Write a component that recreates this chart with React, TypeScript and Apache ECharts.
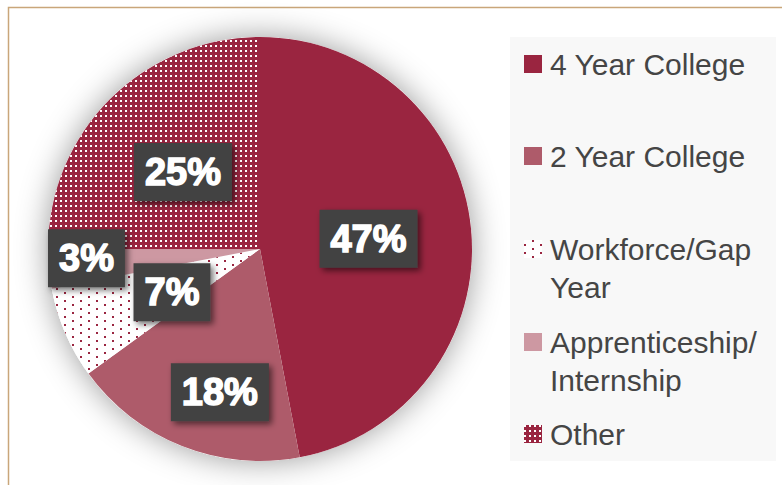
import React, { useEffect, useRef } from 'react';
import * as echarts from 'echarts';

const categories = ['4 Year College', '2 Year College', 'Workforce/Gap Year', 'Apprenticeship/Internship', 'Other'];
const values = [47, 18, 7, 3, 25];
const legendText = ['4 Year College', '2 Year College', ' \nWorkforce/Gap\nYear', ' \nApprenticeship/\nInternship', 'Other'];
const sliceColors = ['#9A2540', '#AE5B6A', '#FFFFFF', '#CD98A2', '#9A2540'];
const labelOffsets = [[0, 0], [0, 42], [12, 0], [-65, -1], [0, 0]];
const legendTops = [45, 137, 192, 285, 415];

export default function App() {
  const ref = useRef<HTMLDivElement>(null);
  useEffect(() => {
    const chart = echarts.init(ref.current!, null, { renderer: 'svg' });
    const decals: any[] = [
      undefined,
      undefined,
      { symbol: 'rect', symbolSize: 1, color: '#9A2540', dashArrayX: [[2, 14], [0, 8, 2, 6]], dashArrayY: [2, 2], rotation: 0 },
      undefined,
      { symbol: 'rect', symbolSize: 1, color: '#FFFFFF', dashArrayX: [2, 3], dashArrayY: [2, 3], rotation: 0 },
    ];
    const data = categories.map((name, i) => {
      const itemStyle: any = { color: sliceColors[i], borderWidth: 0 };
      if (decals[i]) itemStyle.decal = decals[i];
      return { name, value: values[i], itemStyle };
    });
    const legends = categories.map((name, i) => ({
      show: true,
      orient: 'vertical',
      left: 524,
      top: legendTops[i],
      padding: 0,
      itemWidth: 18,
      itemHeight: 18,
      icon: 'rect',
      selectedMode: false,
      data: [name],
      formatter: () => legendText[i],
      textStyle: { fontSize: 30, lineHeight: 38, color: '#454545', fontFamily: 'Liberation Sans', padding: [0, 0, 0, 3] },
    }));
    const option: any = {
      animation: false,
      backgroundColor: '#FFFFFF',
      graphic: [
        { type: 'rect', z: 0, silent: true, shape: { x: 510, y: 37, width: 266, height: 424 }, style: { fill: '#F8F8F8' } },
        { type: 'rect', z: 0, silent: true, shape: { x: 8.5, y: 7.5, width: 900, height: 600 }, style: { fill: 'none', stroke: '#C9A67A', lineWidth: 1.5 } },
      ],
      legend: legends,
      series: [
        {
          type: 'pie',
          z: 1,
          silent: true,
          center: [260, 249],
          radius: 212,
          label: { show: false },
          labelLine: { show: false },
          itemStyle: { color: '#FFFFFF', shadowBlur: 32, shadowColor: 'rgba(0,0,0,0.4)' },
          data: [{ value: 1, name: 'shadow' }],
        },
        {
          type: 'pie',
          z: 2,
          center: [260, 249],
          radius: 212,
          startAngle: 90,
          clockwise: true,
          avoidLabelOverlap: false,
          emphasis: { disabled: true },
          label: {
            show: true,
            position: 'inside',
            formatter: '{c}%',
            color: '#FFFFFF',
            fontFamily: 'Liberation Sans',
            fontWeight: 'bold',
            fontSize: 38,
            lineHeight: 38,
            backgroundColor: '#424242',
            padding: [10, 11],
            textBorderColor: '#FFFFFF',
            textBorderWidth: 1.5,
            shadowColor: 'rgba(0,0,0,0.55)',
            shadowBlur: 6,
            shadowOffsetX: 3,
            shadowOffsetY: 3,
          },
          labelLayout: (p: any) => ({ dx: labelOffsets[p.dataIndex][0], dy: labelOffsets[p.dataIndex][1] }),
          labelLine: { show: false },
          data,
        },
      ],
    };
    chart.setOption(option);
    return () => chart.dispose();
  }, []);
  return <div ref={ref} style={{ position: 'absolute', left: 0, top: 0, width: 782, height: 485 }} />;
}
